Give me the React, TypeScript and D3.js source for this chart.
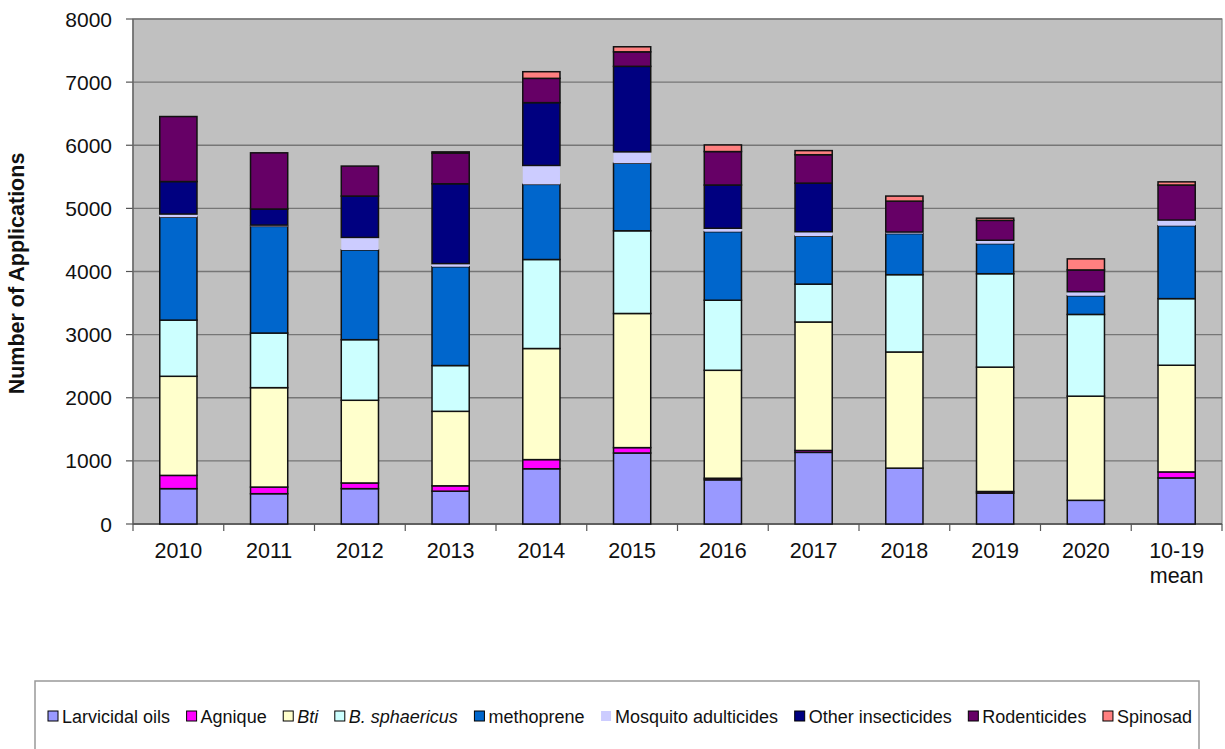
import React from 'react';
import * as d3 from 'd3';

const categories = ['2010', '2011', '2012', '2013', '2014', '2015', '2016', '2017', '2018', '2019', '2020', '10-19 mean'];
const categoryLabels: string[][] = [['2010'], ['2011'], ['2012'], ['2013'], ['2014'], ['2015'], ['2016'], ['2017'], ['2018'], ['2019'], ['2020'], ['10-19', 'mean']];

const larvicidalOils = [560, 480, 560, 520, 875, 1125, 700, 1135, 885, 490, 375, 730];
const agnique = [210, 105, 90, 85, 145, 85, 25, 30, 0, 25, 0, 95];
const bti = [1570, 1575, 1310, 1180, 1760, 2125, 1710, 2035, 1840, 1970, 1650, 1690];
const bSphaericus = [890, 865, 960, 725, 1410, 1310, 1110, 600, 1225, 1480, 1295, 1055];
const methoprene = [1630, 1690, 1420, 1565, 1190, 1070, 1085, 760, 650, 475, 295, 1155];
const mosquitoAdulticides = [50, 20, 200, 50, 300, 180, 55, 70, 25, 55, 65, 90];
const otherInsecticides = [515, 255, 655, 1265, 995, 1355, 685, 770, 0, 0, 0, 0];
const rodenticides = [1030, 890, 475, 485, 385, 230, 530, 450, 490, 315, 345, 555];
const spinosad = [0, 0, 0, 20, 105, 80, 105, 65, 80, 35, 175, 50];

const yTicks = [0, 1000, 2000, 3000, 4000, 5000, 6000, 7000, 8000];

const seriesNames = ['Larvicidal oils', 'Agnique', 'Bti', 'B. sphaericus', 'methoprene', 'Mosquito adulticides', 'Other insecticides', 'Rodenticides', 'Spinosad'];
const seriesValues = [larvicidalOils, agnique, bti, bSphaericus, methoprene, mosquitoAdulticides, otherInsecticides, rodenticides, spinosad];
const seriesColors = ['#9999ff', '#ff00ff', '#ffffcc', '#ccffff', '#0066cc', '#ccccff', '#000080', '#660066', '#ff8080'];
const seriesItalic = [false, false, true, true, false, false, false, false, false];
const seriesStroked = [true, true, true, true, true, false, true, true, true];

const FONT = 'Liberation Sans, Arial, Helvetica, sans-serif';

function measure(text: string, font: string): number {
  const c = document.createElement('canvas').getContext('2d');
  if (!c) return text.length * 9;
  c.font = font;
  return c.measureText(text).width;
}

export default function App() {
  const W = 1225, H = 749;
  const left = 133, right = 1222, top = 19, bottom = 524;

  const x = d3.scaleBand<string>().domain(categories).range([left, right]).paddingInner(0).paddingOuter(0);
  const y = d3.scaleLinear().domain([0, 8000]).range([bottom, top]);
  const barW = x.bandwidth() * 0.41;

  const rows = categories.map((c, i) => {
    const r: any = { cat: c };
    seriesNames.forEach((n, k) => { r[n] = seriesValues[k][i]; });
    return r;
  });
  const stacked = d3.stack<any>().keys(seriesNames)(rows);

  // legend layout
  const legFontSize = 18;
  const sw = 10;
  const widths = seriesNames.map((n, k) => measure(n, `${seriesItalic[k] ? 'italic ' : ''}${legFontSize}px ${FONT}`));
  const legStart = 48, legEnd = 1192;
  const itemW = widths.map(w => sw + 4 + w);
  const gap = (legEnd - legStart - d3.sum(itemW)) / (seriesNames.length - 1);
  const legX: number[] = [];
  let cx = legStart;
  itemW.forEach(w => { legX.push(cx); cx += w + gap; });
  const legY = 717;

  return (
    <svg width={W} height={H} style={{ position: 'absolute', left: 0, top: 0, background: '#fff' }} fontFamily={FONT}>
      <rect x={0} y={0} width={W} height={H} fill="#ffffff" />
      <rect x={left} y={top} width={right - left} height={bottom - top} fill="#c0c0c0" stroke="#8a8a8a" strokeWidth={1.2} />
      {yTicks.map(t => (
        <g key={t}>
          <line x1={left} x2={right} y1={y(t)} y2={y(t)} stroke="#767676" strokeWidth={1.4} />
          <line x1={left - 7} x2={left} y1={y(t)} y2={y(t)} stroke="#555" strokeWidth={1.2} />
          <text x={112} y={y(t)} dy="0.36em" textAnchor="end" fontSize={21} fill="#111">{t}</text>
        </g>
      ))}
      <line x1={left} x2={left} y1={top} y2={bottom} stroke="#666" strokeWidth={1.4} />
      <line x1={left} x2={right} y1={bottom} y2={bottom} stroke="#555" strokeWidth={1.4} />
      {categories.map((c, i) => (
        <line key={'t' + c} x1={(x(c) as number)} x2={(x(c) as number)} y1={bottom} y2={bottom + 7} stroke="#555" strokeWidth={1.2} />
      ))}
      <line x1={right} x2={right} y1={bottom} y2={bottom + 7} stroke="#555" strokeWidth={1.2} />
      {stacked.map((s, k) => (
        <g key={s.key}>
          {s.map((d, i) => {
            const h = y(d[0]) - y(d[1]);
            if (h <= 0) return null;
            const bx = (x(categories[i]) as number) + (x.bandwidth() - barW) / 2;
            return (
              <rect key={i} x={bx} y={y(d[1])} width={barW} height={h}
                fill={seriesColors[k]}
                stroke={seriesStroked[k] ? '#111' : 'none'} strokeWidth={1.5} />
            );
          })}
        </g>
      ))}
      {categories.map((c, i) => (
        <text key={'l' + c} x={(x(c) as number) + x.bandwidth() / 2} y={558} textAnchor="middle" fontSize={21.5} fill="#111">
          {categoryLabels[i].map((ln, j) => (
            <tspan key={j} x={(x(c) as number) + x.bandwidth() / 2} dy={j === 0 ? 0 : 25}>{ln}</tspan>
          ))}
        </text>
      ))}
      <text transform={`translate(24,${(top + bottom) / 2 + 2}) rotate(-90)`} textAnchor="middle" fontSize={21.5} fontWeight="bold" fill="#111">Number of Applications</text>
      <rect x={35} y={681} width={1164} height={90} fill="#fff" stroke="#999" strokeWidth={1.5} />
      {seriesNames.map((n, k) => (
        <g key={'lg' + n}>
          <rect x={legX[k]} y={legY - 6} width={sw} height={sw} fill={seriesColors[k]} stroke={seriesStroked[k] ? '#000' : 'none'} strokeWidth={1} />
          <text x={legX[k] + sw + 4} y={legY} dy="0.36em" fontSize={legFontSize} fontStyle={seriesItalic[k] ? 'italic' : 'normal'} fill="#111">{n}</text>
        </g>
      ))}
    </svg>
  );
}
